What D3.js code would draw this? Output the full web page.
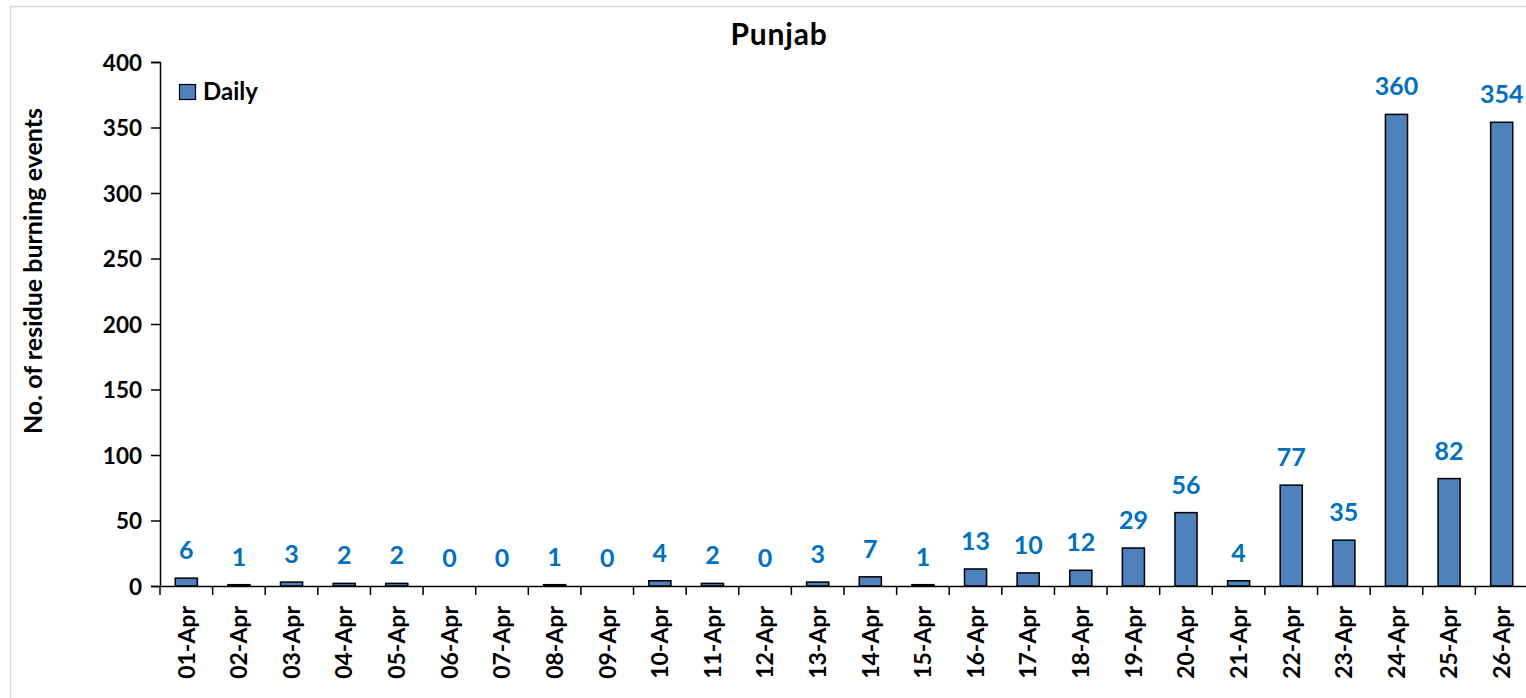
<!DOCTYPE html>
<html><head><meta charset="utf-8">
<script src="https://cdn.jsdelivr.net/npm/d3@7/dist/d3.min.js"></script>
<style>body{margin:0;background:#fff;}svg{display:block;font-family:Lato,"Open Sans",sans-serif;}</style>
</head><body><svg id="c" width="1526" height="698"></svg>
<script>
const categories = ["01-Apr","02-Apr","03-Apr","04-Apr","05-Apr","06-Apr","07-Apr","08-Apr","09-Apr","10-Apr","11-Apr","12-Apr","13-Apr","14-Apr","15-Apr","16-Apr","17-Apr","18-Apr","19-Apr","20-Apr","21-Apr","22-Apr","23-Apr","24-Apr","25-Apr","26-Apr"];
const daily = [6,1,3,2,2,0,0,1,0,4,2,0,3,7,1,13,10,12,29,56,4,77,35,360,82,354];
const yTicks = [0,50,100,150,200,250,300,350,400];
const title = "Punjab";
const yTitle = "No. of residue burning events";
const seriesName = "Daily";

const svg = d3.select("#c");
const mLeft = 160, mRight = 1528, mTop = 62, mBottom = 586;

svg.append("rect").attr("x",10.5).attr("y",6.5).attr("width",1560).attr("height",760)
  .attr("fill","#fff").attr("stroke","#d9d9d9").attr("stroke-width",1.5);

const x = d3.scaleBand().domain(categories).range([mLeft,mRight]).paddingInner(0.58).paddingOuter(0.29);
const xb = d3.scaleBand().domain(categories).range([mLeft,mRight]);
const y = d3.scaleLinear().domain([0,400]).range([mBottom,mTop]);

// bars
svg.selectAll("rect.bar").data(daily.map((v,i)=>({v,c:categories[i]})).filter(d=>d.v>0))
  .enter().append("rect").attr("class","bar")
  .attr("x",d=>x(d.c)).attr("width",x.bandwidth())
  .attr("y",d=>y(d.v)).attr("height",d=>y(0)-y(d.v))
  .attr("fill","#4F81BD").attr("stroke","#000").attr("stroke-width",1.5);

// value labels
svg.selectAll("text.val").data(daily.map((v,i)=>({v,c:categories[i]})))
  .enter().append("text").attr("class","val")
  .attr("x",d=>xb(d.c)+xb.bandwidth()/2).attr("y",d=>y(d.v)-19)
  .attr("text-anchor","middle").attr("font-size",25).attr("font-weight","bold")
  .attr("fill","#0070C0").text(d=>d.v);

// y axis
const ya = svg.append("g").attr("transform",`translate(${mLeft},0)`)
  .call(d3.axisLeft(y).tickValues(yTicks).tickSize(9).tickPadding(9));
ya.select(".domain").attr("stroke","#000").attr("stroke-width",1.5);
ya.selectAll(".tick line").attr("stroke","#000").attr("stroke-width",1.5);
ya.selectAll(".tick text").attr("font-size",22.5).attr("font-weight","bold").attr("fill","#000")
  .attr("font-family","Lato,sans-serif").attr("dy","0.36em");

// x axis
const xa = svg.append("g").attr("transform",`translate(0,${mBottom})`)
  .call(d3.axisBottom(xb).tickSize(0).tickPadding(0));
xa.select(".domain").attr("stroke","#000").attr("stroke-width",1.5);
xa.selectAll(".tick text").attr("font-size",23).attr("font-weight","bold").attr("fill","#000")
  .attr("font-family","Lato,sans-serif")
  .attr("transform","rotate(-90)").attr("text-anchor","end").attr("x",-20).attr("y",0).attr("dy","0.36em");
// boundary ticks
svg.append("g").selectAll("line").data(categories.concat([null]))
  .enter().append("line")
  .attr("x1",(d,i)=>mLeft+i*xb.bandwidth()).attr("x2",(d,i)=>mLeft+i*xb.bandwidth())
  .attr("y1",mBottom).attr("y2",mBottom+9).attr("stroke","#000").attr("stroke-width",1.5);

// title
svg.append("text").attr("x",779).attr("y",45).attr("text-anchor","middle")
  .attr("font-size",30).attr("font-weight","bold").attr("letter-spacing",0.8).text(title);

// y title
svg.append("text").attr("transform",`translate(42,271) rotate(-90)`).attr("text-anchor","middle")
  .attr("font-size",25).attr("font-weight","bold").text(yTitle);

// legend
svg.append("rect").attr("x",179.5).attr("y",84.5).attr("width",16).attr("height",15)
  .attr("fill","#4F81BD").attr("stroke","#000").attr("stroke-width",1.2);
svg.append("text").attr("x",203).attr("y",99.5).attr("font-size",24).attr("font-weight","bold").text(seriesName);
</script></body></html>
